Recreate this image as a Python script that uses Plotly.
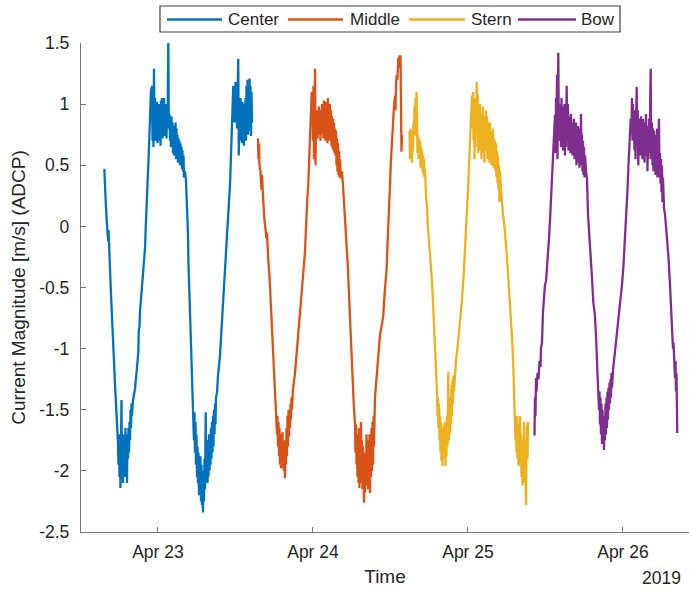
import pandas as pd
import plotly.graph_objects as go

# Time in hours since 2019-04-22 00:00, current magnitude in m/s
center_hours = [15.69,15.76,15.95,16.18,16.30,16.35,16.41,16.57,16.72,16.88,17.03,17.19,17.34,17.50,17.65,17.81,
 17.88,17.96,18.04,18.12,18.19,18.27,18.35,18.43,18.50,18.58,18.66,18.74,18.81,18.89,18.97,19.05,19.12,19.20,19.28,
 19.36,19.43,19.51,19.59,19.67,19.74,19.82,19.90,19.97,20.13,20.44,20.67,20.83,20.95,21.03,21.14,21.21,21.45,21.60,
 21.72,21.83,21.99,22.11,22.25,22.37,22.50,22.61,22.76,22.92,
 22.99,23.07,23.15,23.23,23.30,23.38,23.46,23.54,23.61,23.69,23.77,23.85,23.92,24.00,24.08,24.15,24.23,24.31,24.39,
 24.46,24.54,24.62,24.70,24.77,24.85,24.93,25.01,25.08,25.16,25.24,25.32,25.39,25.47,25.60,25.67,25.78,25.86,25.94,
 26.01,26.09,26.17,26.25,26.32,26.40,26.48,26.55,26.63,26.71,26.79,26.86,26.94,27.02,27.10,27.17,27.25,27.33,27.41,
 27.48,27.56,27.64,27.72,27.79,27.87,27.95,28.03,28.18,28.33,28.49,28.64,28.72,28.85,28.95,29.11,29.22,29.34,29.46,
 29.57,29.65,29.73,29.81,29.88,29.96,30.04,30.12,30.19,30.27,30.35,30.43,30.50,30.58,30.66,30.74,30.81,30.89,30.97,
 31.04,31.12,31.20,31.28,31.39,31.46,31.56,31.67,31.74,31.82,31.90,31.98,32.05,32.13,32.21,32.28,32.36,32.44,32.52,
 32.59,32.67,32.75,32.83,32.90,32.98,33.14,33.29,33.45,33.60,33.75,33.86,34.06,34.22,34.37,34.60,34.79,34.99,35.15,
 35.30,35.41,35.53,35.66,35.77,35.84,35.92,36.00,36.08,36.15,36.23,36.43,36.51,36.62,36.70,36.77,36.85,36.93,37.01,
 37.08,37.16,37.24,37.32,37.39,37.47,37.55,37.63,37.70,37.78,37.86,37.94,38.01,38.09,38.17,38.25,38.32,38.40,38.48,38.56]
center_vals = [0.47,0.35,0.15,-0.05,-0.12,-0.03,-0.20,-0.35,-0.55,-0.78,-0.95,-1.12,-1.28,-1.45,-1.60,-1.78,
 -1.95,-1.70,-2.05,-1.85,-2.14,-1.90,-1.42,-2.05,-1.80,-2.10,-1.70,-2.00,-1.75,-2.05,-1.65,-1.95,-1.70,-2.10,-1.75,
 -1.90,-1.65,-1.85,-1.60,-1.75,-1.50,-1.65,-1.45,-1.55,-1.42,-1.33,-1.20,-1.10,-1.03,-0.85,-0.82,-0.70,-0.55,-0.45,
 -0.34,-0.28,-0.18,0.00,0.23,0.35,0.47,0.65,0.88,1.13,
 0.90,1.15,0.70,1.05,0.65,1.29,0.80,1.05,0.70,0.98,0.75,1.02,0.68,0.95,0.72,1.00,0.70,0.98,0.66,
 1.03,0.75,1.05,0.72,0.98,0.80,1.05,0.74,0.95,0.78,1.00,0.72,0.96,0.80,1.51,0.82,0.92,0.70,0.88,
 0.65,0.90,0.66,0.85,0.60,0.82,0.58,0.80,0.60,0.85,0.55,0.80,0.58,0.75,0.52,0.72,0.55,0.70,0.50,
 0.68,0.52,0.65,0.47,0.62,0.45,0.58,0.40,0.45,0.38,0.20,-0.05,-0.30,-0.50,-0.75,-0.98,-1.16,-1.32,-1.44,
 -1.75,-1.52,-1.85,-1.60,-1.95,-1.70,-2.05,-1.80,-2.10,-1.85,-2.20,-1.90,-2.15,-1.88,-2.25,-1.95,-2.28,-2.00,-2.34,
 -2.05,-2.25,-1.90,-2.15,-1.52,-2.05,-1.75,-2.10,-1.80,-2.05,-1.70,-2.00,-1.75,-1.95,-1.65,-1.90,-1.60,-1.85,-1.55,
 -1.80,-1.50,-1.70,-1.45,-1.62,-1.40,-1.36,-1.22,-1.15,-1.06,-0.92,-0.81,-0.62,-0.48,-0.34,-0.15,0.03,0.20,0.34,
 0.55,0.74,0.95,1.15,0.85,1.15,0.90,1.18,0.85,1.10,0.80,1.37,0.58,1.00,0.70,1.05,0.75,0.95,0.68,
 1.02,0.72,0.98,0.66,1.00,0.75,1.05,0.70,1.15,0.80,1.20,0.75,1.10,0.78,1.21,0.80,1.15,0.74,1.10,0.85]

middle_hours = [39.48,39.56,39.64,39.72,39.87,40.03,40.10,40.18,40.33,40.49,40.64,40.80,40.87,40.95,41.11,41.26,
 41.42,41.57,41.73,41.88,42.04,42.19,42.35,42.43,42.50,42.58,42.66,42.74,42.81,42.89,42.97,43.05,43.12,43.20,43.28,
 43.36,43.43,43.51,43.59,43.66,43.74,43.82,43.90,43.97,44.05,44.13,44.21,44.28,44.36,44.44,44.52,44.59,44.67,44.75,
 44.90,45.06,45.21,45.37,45.48,45.60,45.76,45.99,46.14,46.25,46.37,46.53,46.76,46.91,47.02,47.15,47.27,47.38,47.54,
 47.69,47.80,47.85,47.92,48.00,48.08,48.15,48.23,48.31,48.39,48.46,48.54,48.62,48.70,48.77,48.85,48.93,49.01,49.08,
 49.16,49.24,49.32,49.39,49.47,49.55,49.62,49.70,49.78,49.86,49.93,50.01,50.09,50.17,50.24,50.32,50.40,50.48,50.55,
 50.63,50.71,50.79,50.86,50.94,51.02,51.10,51.17,51.25,51.33,51.41,51.48,51.56,51.64,51.72,51.79,51.87,51.95,52.03,
 52.10,52.18,52.34,52.49,52.64,52.80,52.95,53.18,53.29,53.42,53.57,53.73,53.88,53.99,54.19,54.35,54.50,54.58,54.66,
 54.74,54.81,54.89,54.97,55.05,55.12,55.20,55.28,55.36,55.43,55.51,55.59,55.67,55.74,55.90,55.97,56.05,56.13,56.21,
 56.28,56.36,56.44,56.52,56.59,56.67,56.75,56.83,56.90,56.98,57.06,57.13,57.21,57.29,57.37,57.44,57.60,57.75,57.86,
 58.07,58.22,58.37,58.61,58.89,59.02,59.15,59.41,59.54,59.66,59.77,59.92,60.08,60.19,60.39,60.54,60.70,60.78,60.85,
 60.96,61.08,61.21,61.32,61.39,61.47,61.55,61.63,61.70,61.78]
middle_vals = [0.72,0.55,0.68,0.50,0.45,0.30,0.42,0.28,0.18,0.05,-0.05,-0.10,-0.05,-0.20,-0.30,-0.40,
 -0.58,-0.75,-0.92,-1.08,-1.25,-1.38,-1.50,-1.70,-1.55,-1.80,-1.60,-1.88,-1.65,-1.95,-1.70,-1.98,-1.72,-1.92,-1.68,
 -1.98,-1.75,-2.00,-1.80,-2.06,-1.75,-1.95,-1.65,-1.88,-1.55,-1.80,-1.50,-1.72,-1.52,-1.65,-1.45,-1.58,-1.40,-1.50,
 -1.33,-1.28,-1.20,-1.10,-1.03,-0.92,-0.82,-0.70,-0.60,-0.54,-0.45,-0.35,-0.21,-0.02,0.15,0.25,0.34,0.50,0.74,
 0.95,1.10,0.85,1.10,0.70,1.15,0.55,0.95,1.29,0.50,0.85,0.75,0.95,0.72,0.92,0.75,0.98,0.78,0.88,
 0.70,0.95,0.75,1.00,0.78,0.92,0.72,1.03,0.75,0.96,0.70,1.02,0.76,0.95,0.68,1.05,0.72,0.92,0.70,
 1.00,0.74,0.95,0.66,0.90,0.64,0.88,0.62,0.85,0.60,0.80,0.58,0.78,0.50,0.72,0.45,0.68,0.42,0.62,
 0.40,0.55,0.39,0.45,0.34,0.20,0.05,-0.07,-0.20,-0.35,-0.55,-0.75,-0.98,-1.16,-1.38,-1.50,-1.60,-1.85,-1.62,
 -1.95,-1.70,-2.05,-1.75,-2.10,-1.65,-2.14,-1.80,-2.05,-1.60,-2.10,-1.75,-2.15,-1.80,-2.26,-1.90,-2.18,-1.85,-2.12,
 -1.70,-2.05,-1.75,-2.15,-1.80,-2.10,-1.70,-2.18,-1.80,-2.05,-1.65,-2.00,-1.60,-1.95,-1.55,-1.80,-1.40,-1.30,-1.19,
 -1.10,-0.98,-0.89,-0.82,-0.73,-0.60,-0.51,-0.34,-0.15,0.07,0.22,0.34,0.55,0.66,0.88,0.98,1.07,0.95,1.15,
 1.24,1.20,1.38,1.30,1.40,1.35,1.40,1.10,0.61,0.75]

stern_hours = [62.94,63.02,63.10,63.17,63.25,63.33,63.41,63.48,63.56,63.64,63.72,63.79,63.87,63.95,64.03,64.10,
 64.18,64.26,64.34,64.41,64.49,64.57,64.65,64.72,64.80,64.88,64.96,65.03,65.11,65.19,65.26,65.34,65.50,65.65,65.81,
 65.88,66.04,66.12,66.27,66.43,66.58,66.73,66.89,67.04,67.20,67.28,67.35,67.43,67.51,67.59,67.67,67.74,67.82,67.90,
 67.97,68.05,68.13,68.21,68.28,68.36,68.44,68.52,68.59,68.67,68.75,68.83,68.95,69.03,69.14,69.21,69.29,69.37,69.44,
 69.52,69.60,69.68,69.75,69.83,69.99,70.14,70.45,70.76,71.07,71.38,71.69,72.00,72.23,72.46,72.62,72.70,72.77,72.85,
 72.93,73.01,73.08,73.16,73.24,73.35,73.42,73.52,73.59,73.70,73.78,73.86,73.94,74.01,74.09,74.17,74.25,74.32,74.40,
 74.48,74.55,74.63,74.71,74.79,74.86,74.94,75.02,75.10,75.17,75.25,75.33,75.41,75.48,75.56,75.64,75.72,75.79,75.87,
 75.95,76.03,76.10,76.18,76.26,76.34,76.41,76.49,76.57,76.65,76.72,76.80,76.88,76.95,77.11,77.26,77.42,77.65,77.81,
 77.96,78.12,78.27,78.50,78.74,78.89,79.02,79.15,79.27,79.35,79.43,79.51,79.59,79.66,79.74,79.82,79.90,79.97,80.05,
 80.13,80.21,80.28,80.36,80.44,80.52,80.59,80.67,80.75,80.82,80.90,80.98,81.06,81.14,81.21,81.29]
stern_vals = [0.78,0.55,0.80,0.60,0.72,0.52,0.78,0.62,0.85,0.75,0.98,0.82,1.05,0.74,1.10,0.78,
 0.60,0.75,0.55,0.72,0.58,0.70,0.48,0.66,0.50,0.62,0.45,0.58,0.42,0.55,0.40,0.47,0.25,0.17,-0.02,
 -0.07,-0.12,-0.20,-0.30,-0.45,-0.62,-0.78,-0.95,-1.12,-1.35,-1.55,-1.40,-1.65,-1.45,-1.75,-1.55,-1.85,-1.60,-1.92,
 -1.65,-1.96,-1.70,-1.90,-1.62,-1.85,-1.60,-1.96,-1.70,-1.88,-1.55,-1.80,-1.19,-1.75,-1.45,-1.70,-1.40,-1.62,-1.30,
 -1.55,-1.25,-1.45,-1.22,-1.35,-1.16,-1.10,-0.95,-0.80,-0.60,-0.35,-0.05,0.30,0.60,0.90,1.07,0.80,1.10,0.70,
 1.05,0.55,1.00,0.65,1.12,1.18,0.75,1.08,0.60,0.95,0.70,1.00,0.62,0.92,0.55,0.88,0.68,0.98,0.60,
 0.90,0.52,0.85,0.65,0.95,0.62,0.90,0.55,0.85,0.60,0.80,0.52,0.85,0.58,0.78,0.50,0.75,0.55,0.80,
 0.48,0.72,0.52,0.70,0.45,0.68,0.40,0.62,0.35,0.58,0.30,0.50,0.20,0.45,0.30,0.15,0.10,0.00,-0.08,
 -0.20,-0.32,-0.45,-0.62,-0.79,-0.98,-1.16,-1.35,-1.50,-1.75,-1.58,-1.85,-1.55,-1.90,-1.62,-1.96,-1.68,-1.80,-1.55,
 -1.95,-1.70,-2.05,-1.75,-2.12,-1.80,-2.00,-1.60,-2.10,-1.75,-2.20,-2.28,-1.85,-1.62,-1.90,-1.60]

bow_hours = [82.30,82.37,82.45,82.53,82.61,82.76,82.92,83.07,83.23,83.30,83.46,83.61,83.77,83.92,84.08,84.23,
 84.39,84.54,84.70,84.85,85.01,85.16,85.32,85.47,85.55,85.63,85.71,85.78,85.86,85.98,86.06,86.17,86.25,86.32,86.40,
 86.48,86.55,86.63,86.71,86.79,86.86,86.94,87.02,87.10,87.17,87.28,87.38,87.48,87.56,87.64,87.72,87.79,87.87,87.95,
 88.03,88.10,88.18,88.26,88.33,88.41,88.49,88.57,88.64,88.72,88.80,88.88,88.95,89.03,89.11,89.19,89.26,89.34,89.42,
 89.50,89.57,89.65,89.73,89.81,89.88,89.96,90.04,90.12,90.27,90.43,90.58,90.74,90.89,91.04,91.20,91.40,91.66,91.82,
 91.93,92.05,92.18,92.28,92.36,92.44,92.52,92.59,92.67,92.75,92.83,92.90,92.98,93.06,93.14,93.21,93.29,93.37,93.45,
 93.52,93.60,93.68,93.75,93.83,93.91,93.99,94.06,94.14,94.22,94.30,94.45,94.61,94.76,94.91,95.07,95.22,95.38,95.54,
 95.69,95.84,96.05,96.31,96.57,96.70,96.82,97.01,97.19,97.32,97.39,97.47,97.55,97.63,97.70,97.78,97.86,97.94,98.01,
 98.12,98.20,98.29,98.37,98.48,98.55,98.63,98.71,98.79,98.86,98.94,99.02,99.10,99.17,99.25,99.33,99.41,99.48,99.56,
 99.64,99.72,99.79,99.87,99.95,100.03,100.10,100.18,100.29,100.37,100.49,100.57,100.65,100.72,100.80,100.88,100.95,
 101.03,101.11,101.19,101.26,101.34,101.42,101.57,101.65,101.73,101.81,101.88,101.96,102.04,102.11,102.19,102.35,
 102.50,102.66,102.76,102.89,103.04,103.28,103.54,103.74,103.82,103.94,104.05,104.13,104.20,104.28,104.36,104.40]
bow_vals = [-1.71,-1.40,-1.55,-1.24,-1.35,-1.20,-1.25,-1.10,-1.15,-1.00,-0.95,-0.70,-0.55,-0.48,-0.45,-0.30,
 -0.22,-0.10,0.05,0.20,0.34,0.55,0.72,0.91,0.60,1.05,0.75,1.24,0.55,1.42,0.80,1.00,0.70,0.95,0.65,
 1.05,0.72,0.98,0.62,0.92,0.68,1.00,0.58,0.95,0.65,1.15,0.70,1.00,0.62,0.90,0.68,0.88,0.60,0.92,
 0.66,0.85,0.58,0.82,0.62,0.88,0.55,0.80,0.60,0.85,0.50,0.78,0.55,0.82,0.52,0.75,0.48,0.80,0.55,
 0.92,0.50,0.75,0.45,0.70,0.42,0.65,0.40,0.58,0.45,0.39,0.10,-0.02,-0.13,-0.28,-0.42,-0.62,-0.73,-0.90,
 -1.03,-1.20,-1.33,-1.50,-1.35,-1.62,-1.40,-1.70,-1.45,-1.78,-1.50,-1.72,-1.55,-1.83,-1.55,-1.75,-1.45,-1.70,-1.40,
 -1.65,-1.35,-1.58,-1.32,-1.50,-1.28,-1.45,-1.25,-1.40,-1.20,-1.32,-1.18,-1.10,-1.05,-0.92,-0.88,-0.82,-0.72,-0.65,
 -0.58,-0.48,-0.34,-0.12,0.11,0.30,0.47,0.68,0.88,0.80,1.05,0.70,1.00,0.75,0.95,0.62,0.90,0.55,1.00,
 1.14,0.70,0.95,0.50,0.88,0.62,0.85,0.58,0.90,0.65,0.82,0.55,0.88,0.60,0.80,0.52,0.85,0.60,0.92,
 0.58,0.82,0.45,0.78,0.55,0.88,0.60,0.90,1.29,0.55,0.85,0.50,0.80,0.45,0.78,0.52,0.75,
 0.42,0.70,0.48,0.80,0.40,0.72,0.88,0.40,0.60,0.35,0.55,0.28,0.50,0.20,0.40,0.15,
 0.10,0.00,-0.07,-0.12,-0.25,-0.48,-0.75,-1.00,-0.95,-1.18,-1.24,-1.10,-1.35,-1.20,-1.55,-1.69]

series_names = ["Center", "Middle", "Stern", "Bow"]
series_colors = ["#0072BD", "#D95319", "#EDB120", "#7E2F8E"]
series_hours = [center_hours, middle_hours, stern_hours, bow_hours]
series_vals = [center_vals, middle_vals, stern_vals, bow_vals]

tick_days = ["2019-04-23", "2019-04-24", "2019-04-25", "2019-04-26"]
tick_labels = ["Apr 23", "Apr 24", "Apr 25", "Apr 26"]
y_ticks = [-2.5, -2, -1.5, -1, -0.5, 0, 0.5, 1, 1.5]
y_labels = ["-2.5", "-2", "-1.5", "-1", "-0.5", "0", "0.5", "1", "1.5"]

base = pd.Timestamp("2019-04-22")
x_start = base + pd.to_timedelta(12.08, unit="h")
x_end = base + pd.to_timedelta(106.22, unit="h")

FONT = "Liberation Sans, Arial, sans-serif"
AXC = "#7a7a7a"
TXT = "#262626"

# figure layout in pixels
W, H = 689, 592
ML, MR, MT, MB = 81, 0, 43, 60
PW, PH = W - ML - MR, H - MT - MB


def px(xp):
    return (xp - ML) / PW


def py(yp):
    return (H - MB - yp) / PH


fig = go.Figure()
for name, color, hrs, vals in zip(series_names, series_colors, series_hours, series_vals):
    fig.add_trace(go.Scatter(
        x=base + pd.to_timedelta(hrs, unit="h"), y=vals, mode="lines", name=name,
        line=dict(color=color, width=2.3), showlegend=False))

# MATLAB-style horizontal legend box above the axes
shapes = [dict(type="rect", xref="paper", yref="paper", x0=px(160), x1=px(620),
               y0=py(32), y1=py(6), line=dict(color="#404040", width=1.2),
               fillcolor="white", layer="above")]
annotations = []
legend_line_x = [(167, 222), (288, 343), (409, 465), (518, 576)]
legend_text_x = [226, 348, 469, 579]
for (a, b), tx, name, color in zip(legend_line_x, legend_text_x, series_names, series_colors):
    shapes.append(dict(type="line", xref="paper", yref="paper", x0=px(a), x1=px(b),
                       y0=py(19.5), y1=py(19.5), line=dict(color=color, width=2.3),
                       layer="above"))
    annotations.append(dict(text=name, xref="paper", yref="paper", x=px(tx), y=py(19.5),
                            xanchor="left", yanchor="middle", showarrow=False,
                            font=dict(family=FONT, size=17, color=TXT)))

annotations.append(dict(text="2019", xref="paper", yref="paper", x=px(661), y=py(578),
                        xanchor="center", yanchor="middle", showarrow=False,
                        font=dict(family=FONT, size=17.5, color=TXT)))

fig.update_layout(
    width=W, height=H,
    margin=dict(l=ML, r=MR, t=MT, b=MB, autoexpand=False),
    paper_bgcolor="white", plot_bgcolor="white",
    font=dict(family=FONT, size=17.5, color=TXT),
    showlegend=False,
    shapes=shapes, annotations=annotations,
    xaxis=dict(type="date", range=[x_start, x_end], tickvals=pd.to_datetime(tick_days),
               ticktext=tick_labels, ticks="inside", ticklen=5, tickcolor=AXC,
               showline=True, linecolor=AXC, linewidth=1.3, mirror=False,
               showgrid=False, zeroline=False, ticklabelstandoff=4,
               tickfont=dict(family=FONT, size=17.5, color=TXT),
               title=dict(text="Time", font=dict(family=FONT, size=19, color=TXT), standoff=8)),
    yaxis=dict(range=[-2.5, 1.5], tickvals=y_ticks, ticktext=y_labels,
               ticks="inside", ticklen=5, tickcolor=AXC,
               showline=True, linecolor=AXC, linewidth=1.3, mirror=False,
               showgrid=False, zeroline=False, ticklabelstandoff=7,
               tickfont=dict(family=FONT, size=17.5, color=TXT),
               title=dict(text="Current Magnitude [m/s] (ADCP)",
                          font=dict(family=FONT, size=19, color=TXT), standoff=8)),
)

fig.write_html("out.html")
